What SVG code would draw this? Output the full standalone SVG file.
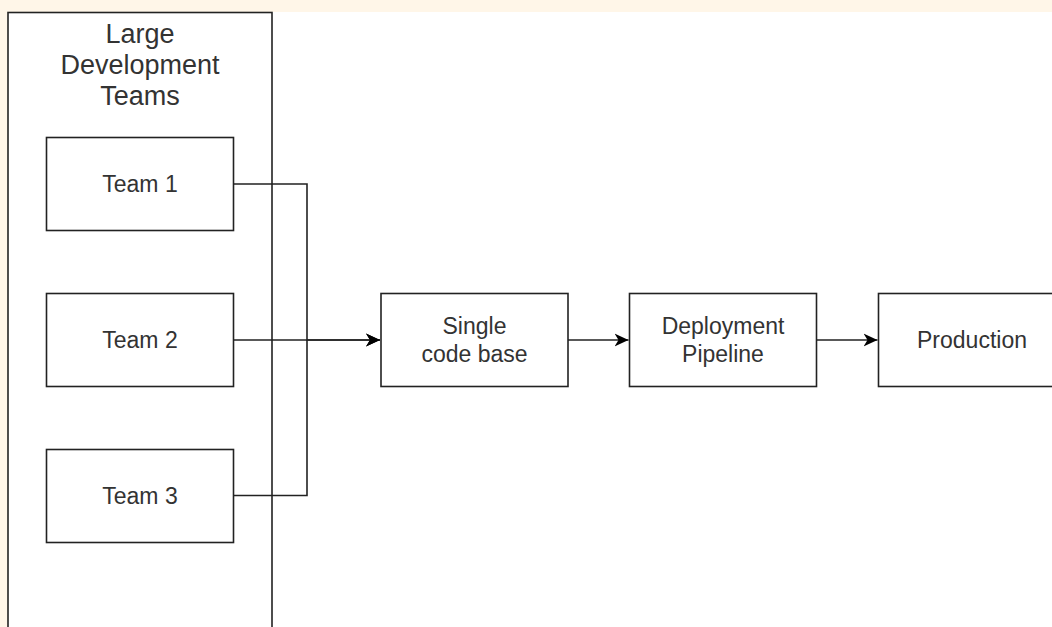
<svg xmlns="http://www.w3.org/2000/svg" width="1052" height="627" viewBox="0 0 1052 627">
  <style>
    .box { fill: #ffffff; stroke: #222222; stroke-width: 1.6; }
    .lbl { font-family: "Liberation Sans", Arial, sans-serif; font-size: 23px; fill: #333333; text-anchor: middle; }
    .title { font-family: "Liberation Sans", Arial, sans-serif; font-size: 27px; fill: #333333; text-anchor: middle; }
    .edge { fill: none; stroke: #222222; stroke-width: 1.6; }
  </style>
  <defs>
    <marker id="arrow" markerUnits="userSpaceOnUse" markerWidth="16" markerHeight="16" refX="14" refY="8" orient="auto">
      <path d="M0,1.5 L14,8 L0,14.5 L4,8 Z" fill="#000000"/>
    </marker>
  </defs>
  <rect x="0" y="0" width="1052" height="627" fill="#fff6e8"/>
  <rect x="8" y="12" width="1044" height="615" fill="#ffffff"/>

  <g id="container">
    <rect class="box" x="8" y="12.5" width="264" height="700"/>
    <text class="title" x="140" y="43">Large</text>
    <text class="title" x="140" y="74">Development</text>
    <text class="title" x="140" y="105">Teams</text>
  </g>

  <g id="team1">
    <rect class="box" x="46.5" y="137.5" width="187" height="93"/>
    <text class="lbl" x="140" y="192">Team 1</text>
  </g>
  <g id="team2">
    <rect class="box" x="46.5" y="293.5" width="187" height="93"/>
    <text class="lbl" x="140" y="348">Team 2</text>
  </g>
  <g id="team3">
    <rect class="box" x="46.5" y="449.5" width="187" height="93"/>
    <text class="lbl" x="140" y="504">Team 3</text>
  </g>

  <g id="codebase">
    <rect class="box" x="381" y="293.5" width="187" height="93"/>
    <text class="lbl" x="474.5" y="334">Single</text>
    <text class="lbl" x="474.5" y="362">code base</text>
  </g>
  <g id="pipeline">
    <rect class="box" x="629.5" y="293.5" width="187" height="93"/>
    <text class="lbl" x="723" y="334">Deployment</text>
    <text class="lbl" x="723" y="362">Pipeline</text>
  </g>
  <g id="production">
    <rect class="box" x="878.5" y="293.5" width="187" height="93"/>
    <text class="lbl" x="972" y="348">Production</text>
  </g>

  <g id="connectors">
    <path class="edge" d="M233.5,184 H307 V340 H380" marker-end="url(#arrow)"/>
    <path class="edge" d="M233.5,340 H380" marker-end="url(#arrow)"/>
    <path class="edge" d="M233.5,495.5 H307 V340"/>
    <path class="edge" d="M568,340 H628.5" marker-end="url(#arrow)"/>
    <path class="edge" d="M816.5,340 H877.5" marker-end="url(#arrow)"/>
  </g>
</svg>
